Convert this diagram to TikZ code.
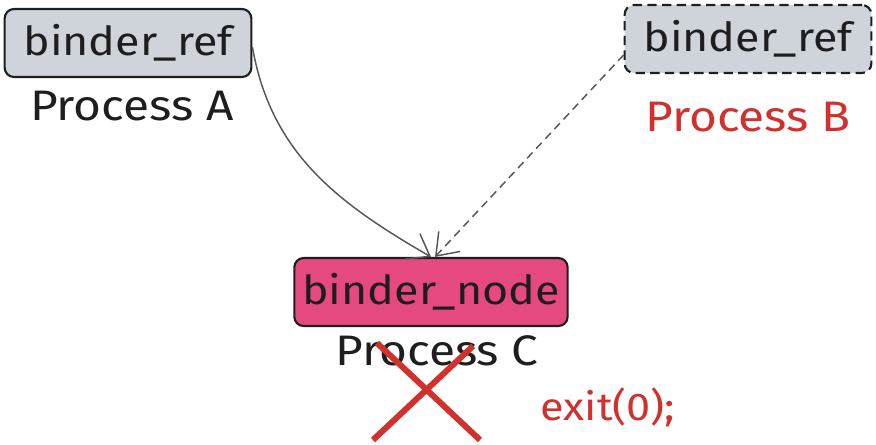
\documentclass[tikz,border=0pt]{standalone}
\usepackage{fontspec}
\setmainfont[FakeStretch=1.12]{Fira Sans}
\usetikzlibrary{arrows.meta}
\definecolor{boxgray}{HTML}{CED4DA}
\definecolor{boxpink}{HTML}{E64980}
\definecolor{inkred}{HTML}{D0312D}
\definecolor{ink}{HTML}{1E1E1E}
\tikzset{
  refbox/.style={draw=ink, line width=1.6pt, rounded corners=7pt, fill=boxgray,
    minimum width=185pt, minimum height=51pt, inner sep=0pt,
    font=\fontsize{30}{30}\selectfont, text=ink},
  nodebox/.style={refbox, fill=boxpink, minimum width=205pt},
  caption/.style={font=\fontsize{32}{32}\selectfont, inner sep=0pt, text=ink},
  link/.style={draw=ink!75, line width=1.1pt, -{Straight Barb[length=15pt,width=22pt,line width=1.1pt]}},
  cross/.style={draw=inkred, line width=4.5pt}
}
\begin{document}
\begin{tikzpicture}[x=0.75pt,y=-0.75pt]
  \useasboundingbox (0,0) rectangle (876,444);
  % the three reference holders
  \node[refbox] (a) at (128,43) {binder\_ref};
  \node[refbox, dashed, dash pattern=on 7pt off 4pt] (b) at (748,39) {binder\_ref};
  \node[nodebox] (c) at (431,292) {binder\_node};
  % process captions
  \node[caption] (pa) at (132,106) {Process A};
  \node[caption, text=inkred] (pb) at (748,117) {Process B};
  \node[caption] (pc) at (437,351) {Process C};
  \node[caption, text=inkred, font=\fontsize{29}{29}\selectfont] (ex) at (608,407) {exit(0);};
  % references into binder_node
  \draw[link] ([yshift=-3pt]a.east) to[out=-80,in=150] (c.north);
  \draw[link, dashed, dash pattern=on 6pt off 4pt] ([yshift=-12pt]b.west) -- ([xshift=3pt]c.north);
  % the process is gone
  \coordinate (x1) at (373,440);
  \coordinate (x2) at (473,346);
  \coordinate (x3) at (377,343);
  \coordinate (x4) at (480,440);
  \draw[cross] (x1) -- (x2);
  \draw[cross] (x3) -- (x4);
\end{tikzpicture}
\end{document}
